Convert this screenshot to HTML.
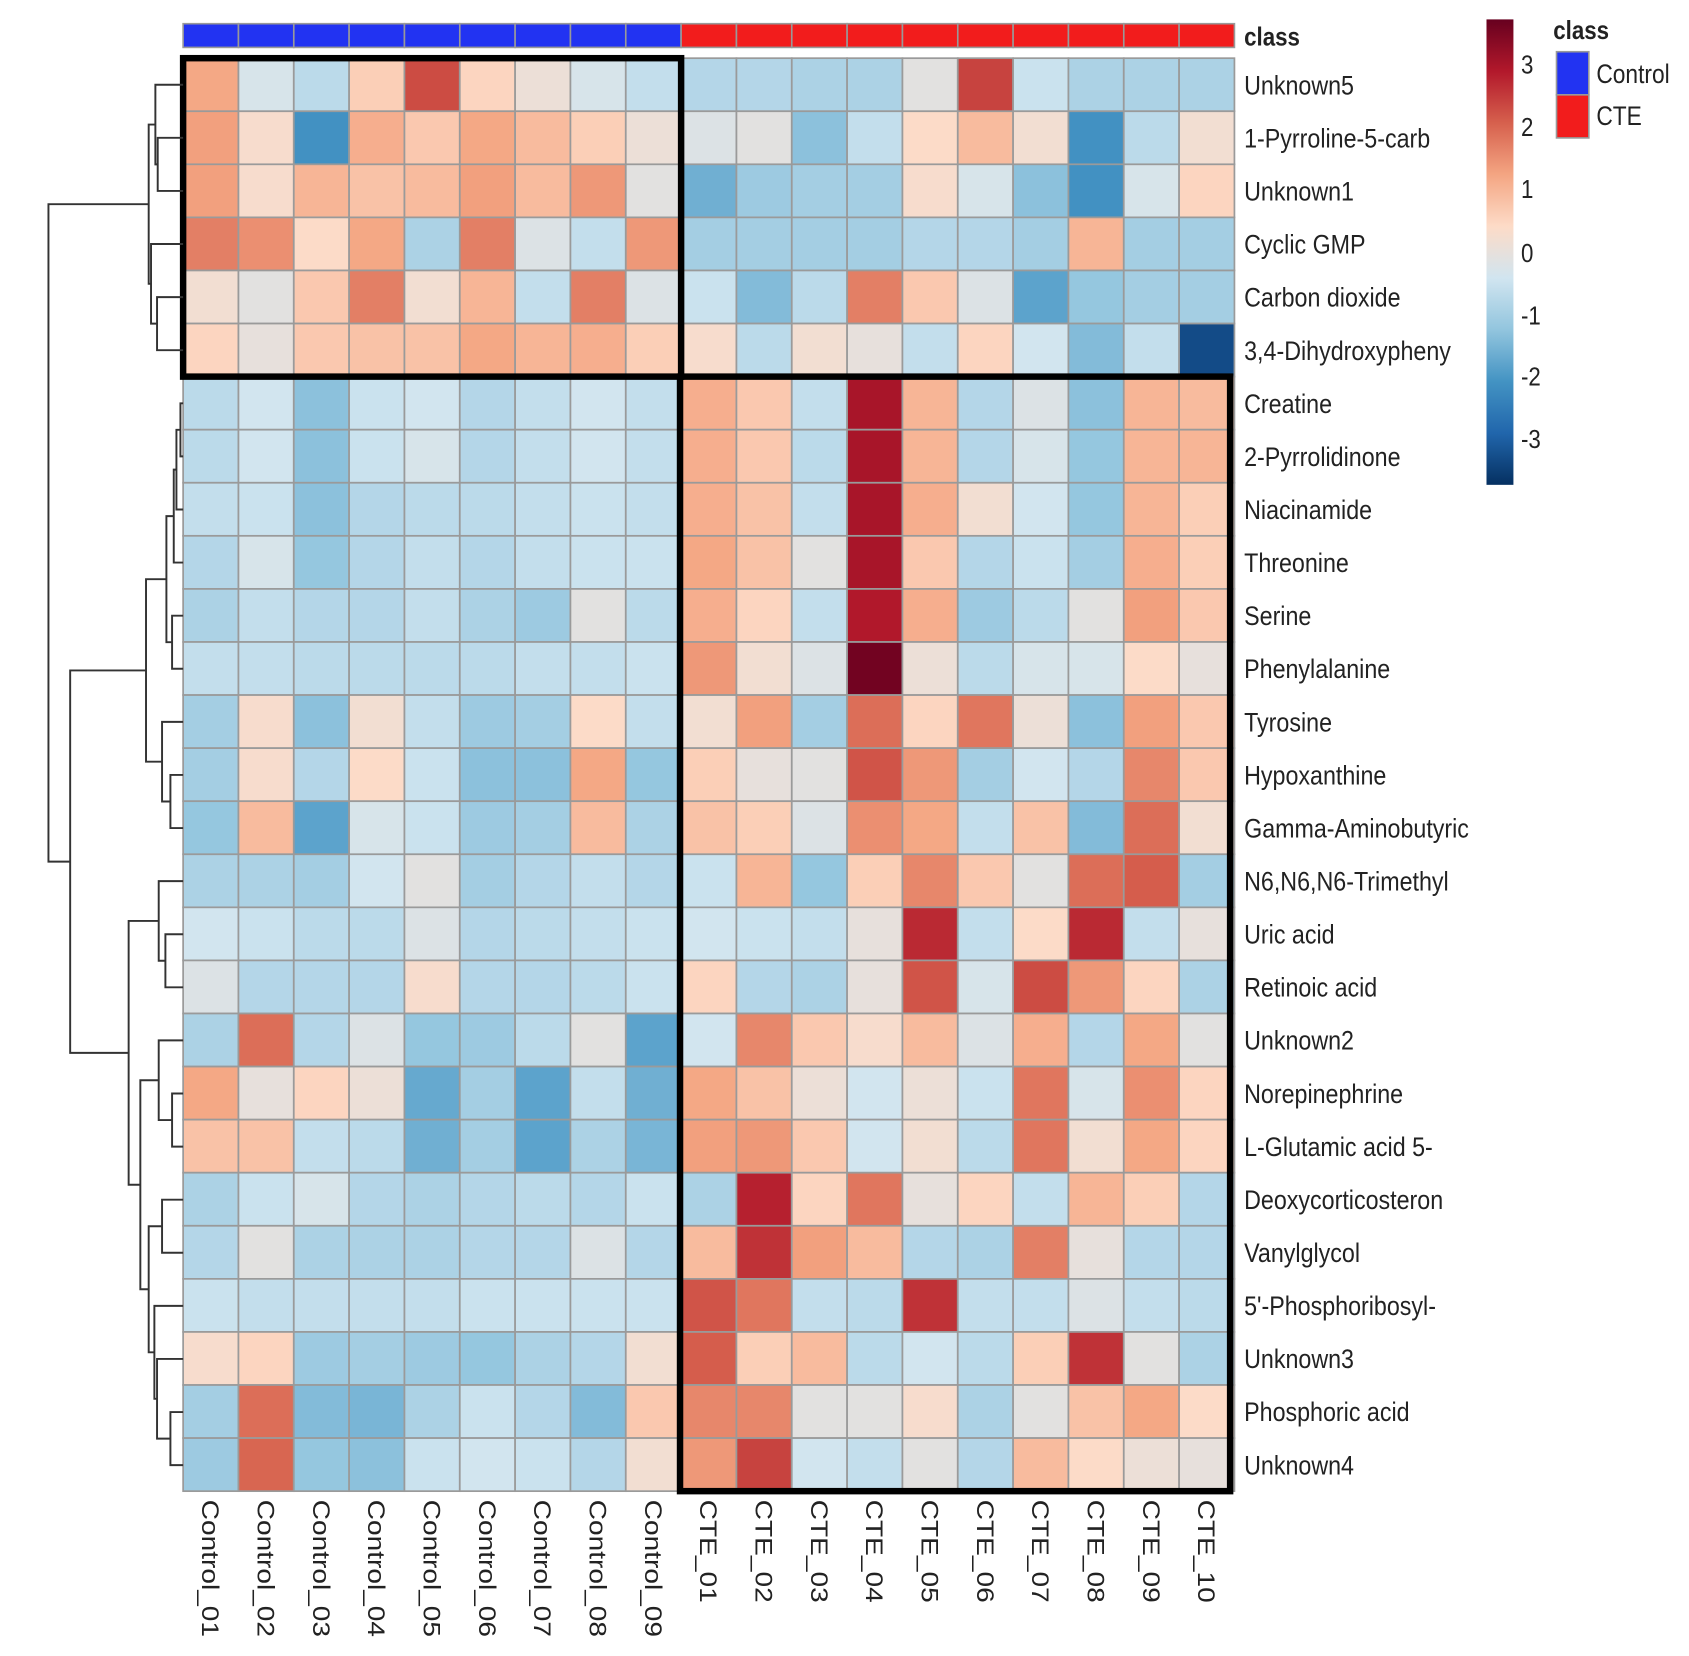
<!DOCTYPE html>
<html><head><meta charset="utf-8">
<style>
html,body{margin:0;padding:0;background:#fff;}
svg{display:block;}
text{font-family:"Liberation Sans Narrow","Liberation Sans",sans-serif;fill:#222;}
</style></head>
<body>
<svg id="s" width="1689" height="1656" viewBox="0 0 1568 1537" preserveAspectRatio="none" xmlns="http://www.w3.org/2000/svg">
<defs>
<linearGradient id="cb" x1="0" y1="1" x2="0" y2="0">
<stop offset="0" stop-color="#053061"/><stop offset="0.111" stop-color="#2166AC"/><stop offset="0.222" stop-color="#4393C3"/><stop offset="0.333" stop-color="#92C5DE"/><stop offset="0.444" stop-color="#D1E5F0"/><stop offset="0.556" stop-color="#FDDBC7"/><stop offset="0.667" stop-color="#F4A582"/><stop offset="0.778" stop-color="#D6604D"/><stop offset="0.889" stop-color="#B2182B"/><stop offset="1" stop-color="#67001F"/>
</linearGradient>
</defs>
</svg>
<script>
(function(){
var s=document.getElementById('s');var NS='http://www.w3.org/2000/svg';
function el(t,a,txt){var e=document.createElementNS(NS,t);for(var k in a)e.setAttribute(k,a[k]);if(txt!==undefined)e.textContent=txt;s.appendChild(e);return e;}
var pal=[[5,48,97],[33,102,172],[67,147,195],[146,197,222],[209,229,240],[253,219,199],[244,165,130],[214,96,77],[178,24,43],[103,0,31]];
function col(v){var t=(v+3.72)/7.44;t=Math.max(0,Math.min(1,t));var p=t*9;var i=Math.min(8,Math.floor(p));var f=p-i;var a=pal[i],b=pal[i+1];
 return 'rgb('+[0,1,2].map(function(k){return Math.round(a[k]+(b[k]-a[k])*f);}).join(',')+')';}
var rows=["Unknown5","1-Pyrroline-5-carb","Unknown1","Cyclic GMP","Carbon dioxide","3,4-Dihydroxypheny","Creatine","2-Pyrrolidinone","Niacinamide","Threonine","Serine","Phenylalanine","Tyrosine","Hypoxanthine","Gamma-Aminobutyric","N6,N6,N6-Trimethyl","Uric acid","Retinoic acid","Unknown2","Norepinephrine","L-Glutamic acid 5-","Deoxycorticosteron","Vanylglycol","5'-Phosphoribosyl-","Unknown3","Phosphoric acid","Unknown4"];
var cols=["Control_01","Control_02","Control_03","Control_04","Control_05","Control_06","Control_07","Control_08","Control_09","CTE_01","CTE_02","CTE_03","CTE_04","CTE_05","CTE_06","CTE_07","CTE_08","CTE_09","CTE_10"];
var M=[
[1.2,-0.3,-0.7,0.6,2.3,0.5,0.1,-0.3,-0.6,-0.8,-0.8,-0.9,-0.9,-0.1,2.4,-0.5,-0.9,-0.9,-0.9],
[1.3,0.3,-2.1,1.1,0.7,1.2,0.9,0.6,0.1,-0.2,-0.1,-1.3,-0.6,0.4,0.9,0.2,-2.1,-0.7,0.2],
[1.3,0.3,1.0,0.8,0.9,1.3,0.9,1.4,-0.1,-1.6,-1.1,-1.0,-1.0,0.3,-0.3,-1.3,-2.1,-0.3,0.5],
[1.7,1.5,0.4,1.2,-0.9,1.7,-0.2,-0.6,1.4,-1.0,-1.0,-1.0,-1.0,-0.8,-0.8,-1.0,1.0,-1.0,-1.0],
[0.2,-0.1,0.7,1.7,0.2,1.0,-0.6,1.7,-0.2,-0.5,-1.4,-0.7,1.7,0.7,-0.2,-1.8,-1.2,-1.0,-1.0],
[0.5,0.0,0.7,0.8,0.8,1.2,1.0,1.1,0.6,0.3,-0.7,0.2,0.0,-0.6,0.5,-0.4,-1.4,-0.6,-3.3],
[-0.7,-0.4,-1.3,-0.5,-0.4,-0.8,-0.6,-0.4,-0.6,1.1,0.7,-0.6,3.0,1.0,-0.8,-0.2,-1.3,1.0,0.9],
[-0.7,-0.4,-1.3,-0.5,-0.3,-0.8,-0.6,-0.4,-0.6,1.1,0.7,-0.7,3.0,1.0,-0.8,-0.3,-1.2,1.0,1.0],
[-0.6,-0.5,-1.3,-0.8,-0.7,-0.7,-0.6,-0.5,-0.6,1.1,0.8,-0.6,3.0,1.1,0.2,-0.4,-1.2,1.0,0.6],
[-0.8,-0.3,-1.2,-0.8,-0.6,-0.8,-0.6,-0.5,-0.5,1.2,0.8,-0.1,3.0,0.7,-0.8,-0.5,-1.0,1.1,0.6],
[-0.9,-0.6,-0.8,-0.8,-0.6,-0.9,-1.1,-0.1,-0.7,1.1,0.5,-0.6,2.9,1.1,-1.1,-0.7,-0.1,1.3,0.7],
[-0.6,-0.6,-0.7,-0.7,-0.7,-0.7,-0.6,-0.6,-0.5,1.4,0.2,-0.2,3.6,0.1,-0.7,-0.3,-0.3,0.4,0.0],
[-1.0,0.3,-1.3,0.2,-0.6,-1.1,-1.0,0.4,-0.6,0.2,1.3,-1.0,1.9,0.5,1.8,0.1,-1.3,1.3,0.7],
[-1.0,0.3,-0.8,0.4,-0.5,-1.3,-1.3,1.2,-1.2,0.6,0.0,-0.1,2.2,1.4,-1.0,-0.4,-0.8,1.6,0.7],
[-1.2,0.9,-1.8,-0.3,-0.5,-1.1,-1.0,0.9,-0.9,0.8,0.6,-0.2,1.5,1.2,-0.6,0.8,-1.4,1.9,0.2],
[-0.9,-0.9,-1.0,-0.4,-0.1,-1.0,-0.8,-0.6,-0.8,-0.5,1.0,-1.2,0.6,1.6,0.7,-0.1,1.9,2.1,-1.0],
[-0.4,-0.5,-0.7,-0.7,-0.2,-0.8,-0.7,-0.6,-0.5,-0.4,-0.5,-0.6,0.0,2.7,-0.6,0.4,2.7,-0.6,0.0],
[-0.2,-0.8,-0.8,-0.8,0.3,-0.8,-0.8,-0.7,-0.5,0.5,-0.8,-0.9,0.0,2.2,-0.3,2.3,1.4,0.5,-0.9],
[-0.9,1.9,-0.8,-0.2,-1.2,-1.1,-0.7,-0.1,-1.8,-0.4,1.6,0.7,0.3,0.9,-0.2,1.1,-0.8,1.2,-0.1],
[1.2,0.0,0.5,0.1,-1.7,-1.0,-1.8,-0.6,-1.6,1.2,0.8,0.1,-0.4,0.1,-0.5,1.8,-0.3,1.5,0.5],
[0.8,0.8,-0.6,-0.7,-1.6,-1.0,-1.8,-0.9,-1.5,1.3,1.4,0.7,-0.4,0.2,-0.7,1.8,0.2,1.2,0.5],
[-0.9,-0.5,-0.3,-0.8,-0.9,-0.8,-0.7,-0.8,-0.5,-0.9,2.8,0.5,1.8,0.0,0.5,-0.6,1.0,0.6,-0.8],
[-0.8,-0.1,-0.9,-0.9,-0.9,-0.8,-0.8,-0.2,-0.8,0.9,2.6,1.3,0.9,-0.8,-0.9,1.7,0.0,-0.8,-0.8],
[-0.5,-0.6,-0.6,-0.6,-0.6,-0.5,-0.5,-0.5,-0.5,2.2,1.8,-0.6,-0.7,2.6,-0.6,-0.6,-0.2,-0.6,-0.7],
[0.3,0.5,-1.1,-1.0,-1.1,-1.2,-0.9,-0.8,0.2,2.1,0.6,0.9,-0.7,-0.4,-0.7,0.6,2.6,-0.1,-0.9],
[-1.0,1.9,-1.4,-1.5,-0.9,-0.5,-0.8,-1.4,0.7,1.6,1.6,-0.1,-0.1,0.3,-0.9,-0.1,0.8,1.2,0.4],
[-1.1,2.0,-1.2,-1.3,-0.5,-0.4,-0.5,-0.8,0.2,1.4,2.4,-0.4,-0.6,-0.1,-0.8,0.9,0.4,0.1,0.0]];
var X0=170,X1=1146,Y0=54,Y1=1384;var cw=(X1-X0)/19,rh=(Y1-Y0)/27;
for(var j=0;j<19;j++){el('rect',{x:X0+j*cw,y:22,width:cw,height:22,fill:j<9?'#2233F2':'#F21C1C',stroke:'#999','stroke-width':1.5});}
el('text',{x:0,y:0,'font-size':23,'font-weight':'bold',transform:'translate(1155,42) scale(0.9,1.05)'},'class');
for(var i=0;i<27;i++)for(var j=0;j<19;j++){el('rect',{x:X0+j*cw,y:Y0+i*rh,width:cw,height:rh,fill:col(M[i][j]),stroke:'#9a9a9a','stroke-width':1.6});}
el('rect',{x:X0,y:Y0,width:cw*9,height:rh*6,fill:'none',stroke:'#000','stroke-width':6});
el('rect',{x:X0+cw*9-1,y:Y0+rh*6,width:cw*10-3,height:rh*21,fill:'none',stroke:'#000','stroke-width':6});
for(var i=0;i<27;i++){el('text',{x:0,y:0,'font-size':24,transform:'translate(1155,'+(Y0+rh*(i+0.5)+9)+') scale(0.9,1.05)'},rows[i]);}
for(var j=0;j<19;j++){var cx=X0+cw*(j+0.5);el('text',{x:0,y:0,'font-size':24,transform:'translate('+(cx-8)+',1392) rotate(90) scale(1.085,0.92)'},cols[j]);}
el('rect',{x:1380,y:18,width:25,height:432,fill:'url(#cb)'});
var tk=[[3,60],[2,118],[1,176],[0,235],[-1,293],[-2,350],[-3,408]];
tk.forEach(function(t){el('text',{x:0,y:0,'font-size':23,transform:'translate(1412,'+(t[1]+8)+') scale(0.9,1.05)'},String(t[0]));});
el('text',{x:0,y:0,'font-size':23,'font-weight':'bold',transform:'translate(1442,36) scale(0.9,1.05)'},'class');
el('rect',{x:1445,y:48,width:30,height:40,fill:'#2233F2',stroke:'#999','stroke-width':1.5});
el('rect',{x:1445,y:88,width:30,height:40,fill:'#F21C1C',stroke:'#999','stroke-width':1.5});
el('text',{x:0,y:0,'font-size':24,transform:'translate(1482,77) scale(0.88,1.05)'},'Control');
el('text',{x:0,y:0,'font-size':24,transform:'translate(1482,116) scale(0.88,1.05)'},'CTE');
function dx(z){return z*0.3102;} function dy(z){return 54+(z-8)*0.86;}
function rc(i){return 8+57.3*(i+0.5);}
function leaf(i){return {x:548,y:rc(i)};}
function join(a,b,x){
 el('path',{d:'M'+dx(a.x)+' '+dy(a.y)+'H'+dx(x)+'V'+dy(b.y)+'H'+dx(b.x),fill:'none',stroke:'#333','stroke-width':1.8});
 return {x:x,y:(a.y+b.y)/2};}
var a=join(leaf(1),leaf(2),472);a=join(leaf(0),a,465);
var b=join(leaf(4),leaf(5),470);b=join(leaf(3),b,452);
var top=join(a,b,445);
var u=join(leaf(6),leaf(7),540);u=join(u,leaf(8),528);u=join(u,leaf(9),520);
var v=join(leaf(10),leaf(11),515);u=join(u,v,498);
var w=join(leaf(13),leaf(14),510);w=join(leaf(12),w,485);
var U=join(u,w,437);
var p=join(leaf(16),leaf(17),495);p=join(leaf(15),p,475);
var q=join(leaf(19),leaf(20),515);q=join(leaf(18),q,475);
var r=join(leaf(21),leaf(22),485);
var t=join(leaf(25),leaf(26),510);t=join(leaf(24),t,470);t=join(leaf(23),t,462);
r=join(r,t,445);q=join(q,r,420);
var L=join(p,q,385);
var B=join(U,L,210);
join(top,B,145);
})();
</script>
</body></html>
